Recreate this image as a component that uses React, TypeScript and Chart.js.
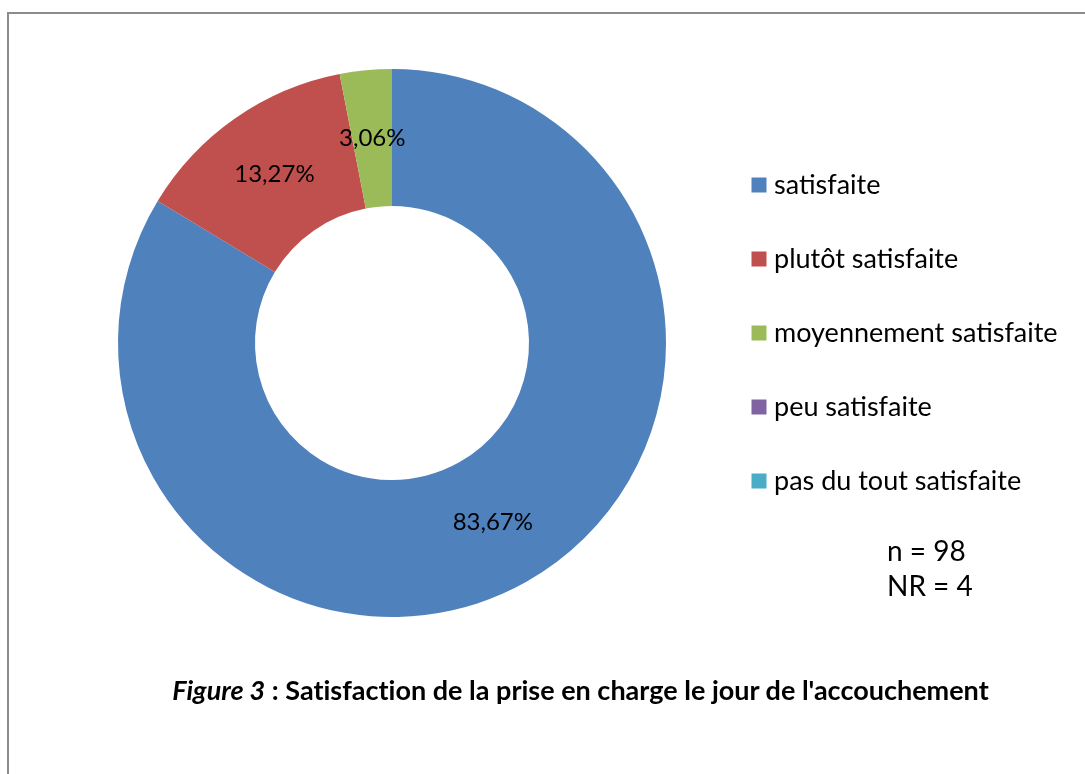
import React, { useEffect, useRef } from "react";
import { Chart, registerables } from "chart.js";

Chart.register(...registerables);

const categories: string[] = [
  "satisfaite",
  "plutôt satisfaite",
  "moyennement satisfaite",
  "peu satisfaite",
  "pas du tout satisfaite",
];
const counts: number[] = [82, 13, 3, 0, 0];
const colors: string[] = ["#4F81BD", "#C0504D", "#9BBB59", "#8064A2", "#4BACC6"];
const captionItalic = "Figure 3";
const captionRest = " : Satisfaction de la prise en charge le jour de l'accouchement";
const notes: string[] = ["n = 98", "NR = 4"];

const FONT = "Lato, 'Open Sans', sans-serif";
const W = 1085;
const H = 774;

const pctLabels = {
  id: "pctLabels",
  afterDatasetsDraw(chart: any) {
    const ctx = chart.ctx;
    const ds = chart.data.datasets[0];
    const total = ds.data.reduce((a: number, b: number) => a + b, 0);
    const meta = chart.getDatasetMeta(0);
    ctx.save();
    ctx.font = `24px ${FONT}`;
    ctx.fillStyle = "#000";
    ctx.textAlign = "center";
    ctx.textBaseline = "middle";
    meta.data.forEach((arc: any, i: number) => {
      const v = ds.data[i];
      if (!v) return;
      const p = arc.tooltipPosition();
      const txt = ((v / total) * 100).toFixed(2).replace(".", ",") + "%";
      ctx.fillText(txt, p.x, p.y);
    });
    ctx.restore();
  },
};

export default function App() {
  const ref = useRef<HTMLCanvasElement | null>(null);

  useEffect(() => {
    const canvas = ref.current!;
    const mctx = canvas.getContext("2d")!;
    const legendFont = 27;
    const legendPad = 47;
    const boxW = 3;
    mctx.font = `${legendFont}px ${FONT}`;
    const maxText = Math.max(...categories.map((c) => mctx.measureText(c).width));
    const legendWidth = legendPad + boxW + legendFont / 2 + maxText + 10;
    const legendLeft = 710.5;
    const padRight = Math.max(0, W - legendLeft - legendWidth);

    const chart = new Chart(canvas, {
      type: "doughnut",
      data: {
        labels: categories,
        datasets: [
          {
            data: counts,
            backgroundColor: colors,
            borderWidth: 0,
            hoverOffset: 0,
          },
        ],
      },
      options: {
        animation: false,
        responsive: false,
        maintainAspectRatio: false,
        cutout: "50%",
        layout: { padding: { left: 73.5, right: padRight, top: 69, bottom: 157 } },
        plugins: {
          tooltip: { enabled: false },
          legend: {
            position: "right",
            align: "start",
            title: { display: true, text: " ", font: { size: 20, lineHeight: 1 }, padding: 17.75 },
            labels: {
              font: { family: FONT, size: legendFont },
              color: "#000",
              padding: legendPad,
              usePointStyle: true,
              pointStyle: "rect",
              boxWidth: boxW,
              boxHeight: 15,
            },
          },
        },
      },
      plugins: [pctLabels],
    });
    return () => chart.destroy();
  }, []);

  return (
    <div style={{ position: "relative", width: W - 16, height: H - 16 }}>
      <div
        style={{
          position: "fixed",
          left: 7,
          top: 12,
          width: W - 7,
          height: H - 12,
          boxSizing: "border-box",
          borderLeft: "2px solid #8c8c8c",
          borderTop: "2px solid #8c8c8c",
        }}
      />
      <canvas
        ref={ref}
        width={W}
        height={H}
        style={{ position: "fixed", left: 0, top: 0, width: W, height: H }}
      />
      <div
        style={{
          position: "fixed",
          left: 887,
          top: 533,
          fontFamily: FONT,
          fontSize: 28,
          lineHeight: "35px",
          color: "#000",
        }}
      >
        {notes.map((n) => (
          <div key={n}>{n}</div>
        ))}
      </div>
      <div
        style={{
          position: "fixed",
          left: 0,
          top: 673,
          width: 1161,
          textAlign: "center",
          fontFamily: FONT,
          fontWeight: "bold",
          fontSize: 27,
          lineHeight: "34px",
          color: "#000",
          fontVariantLigatures: "none",
        }}
      >
        <i>{captionItalic}</i>
        {captionRest}
      </div>
    </div>
  );
}
